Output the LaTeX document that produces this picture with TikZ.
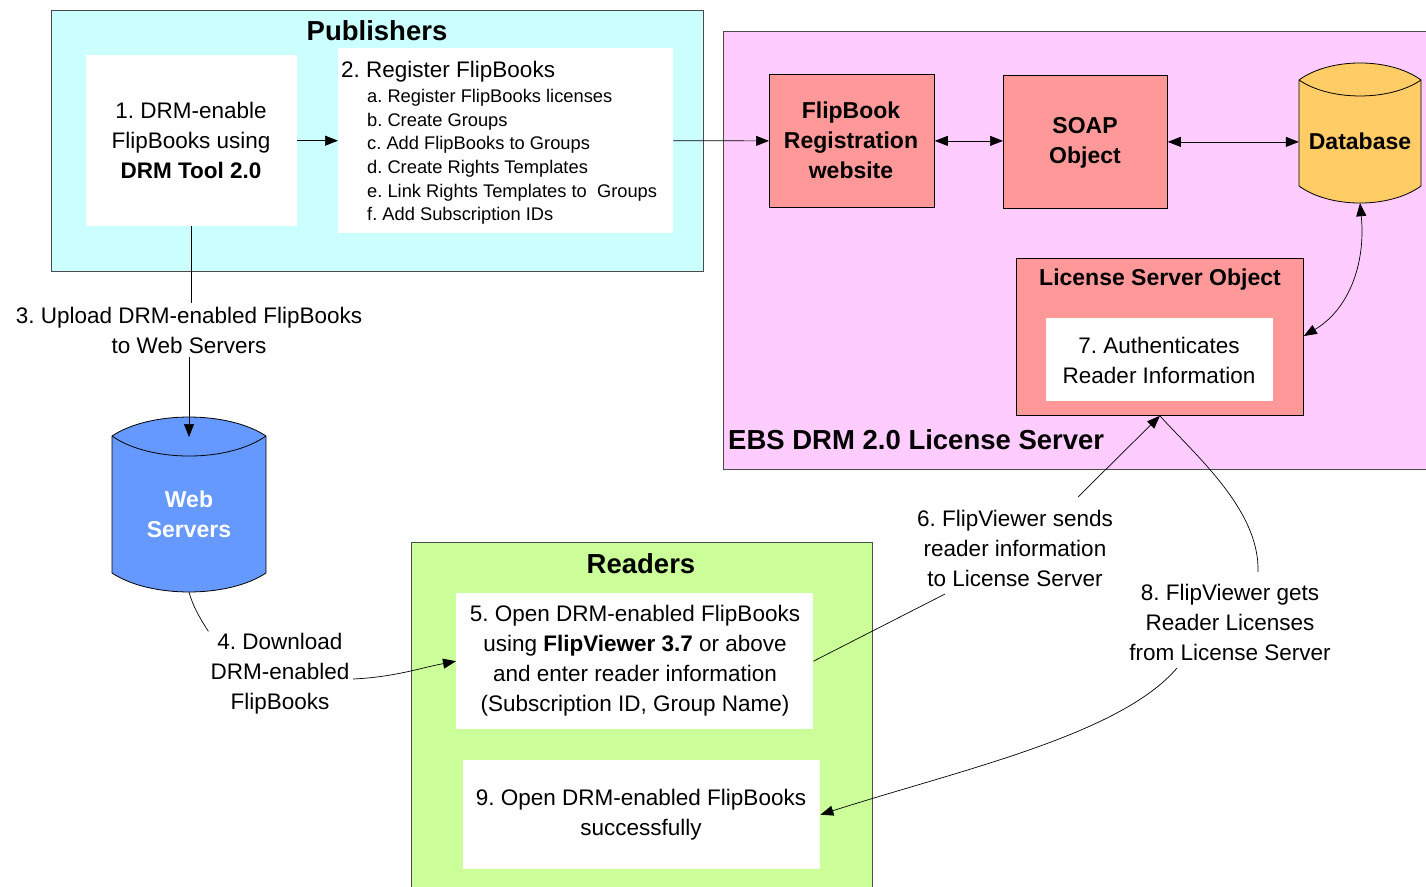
\documentclass[tikz,border=0pt]{standalone}
\usepackage{fontspec}
\setmainfont{Liberation Sans}
\usetikzlibrary{arrows.meta}
\definecolor{pubc}{HTML}{CCFFFF}
\definecolor{srvc}{HTML}{FFCCFF}
\definecolor{salc}{HTML}{FF9999}
\definecolor{rdc}{HTML}{CCFF99}
\definecolor{wsc}{HTML}{6699FF}
\definecolor{dbc}{HTML}{FFCC66}
\newcommand{\myfs}[2]{\fontsize{#1}{#2}\selectfont}
\frenchspacing
\begin{document}
\begin{tikzpicture}[x=1pt,y=-1pt,
  region/.style={draw=black!70, line width=0.9pt, anchor=north west, inner sep=0pt},
  wbox/.style={fill=white, draw=none, anchor=north west, inner sep=0pt},
  sbox/.style={fill=salc, draw=black, line width=0.8pt, anchor=north west, inner sep=0pt},
  conn/.style={line width=0.7pt},
  arr/.style={conn, -{Triangle[length=13pt,width=10pt]}},
  darr/.style={conn, {Triangle[length=13pt,width=10pt]}-{Triangle[length=13pt,width=10pt]}},
  txt/.style={font=\myfs{22.5}{30}, align=center, inner sep=2pt},
  btxt/.style={font=\bfseries\myfs{23}{30}, align=center, inner sep=0pt},
  ttl/.style={font=\bfseries\myfs{27.5}{30}, inner sep=0pt}]
\path[use as bounding box, fill=white] (0,0) rectangle (1426,886);

% ---------- Publishers ----------
\node[region, fill=pubc, minimum width=652pt, minimum height=261pt] (pub) at (51,10) {};
\node[ttl] (pubt) at (377,31) {Publishers};
\node[wbox, minimum width=211pt, minimum height=171pt] (b1) at (86,55) {};
\node[txt] (b1t) at (191,140) {1. DRM-enable\\FlipBooks using\\\textbf{DRM Tool 2.0}};
\node[wbox, minimum width=335pt, minimum height=185pt] (b2) at (338,48) {};
\node[font=\myfs{22.5}{30}, anchor=west, inner sep=0pt] (b2t) at (341,72) {2. Register FlipBooks};
\node[font=\myfs{18.3}{23.7}, align=left, anchor=north west, inner sep=0pt] (b2l) at (367,89)
  {a. Register FlipBooks licenses\\b. Create Groups\\c. Add FlipBooks to Groups\\d. Create Rights Templates\\e. Link Rights Templates to\ \ Groups\\f. Add Subscription IDs};

% ---------- License server ----------
\node[region, fill=srvc, minimum width=720pt, minimum height=438pt] (srv) at (723,31) {};
\node[ttl, anchor=west] (srvt) at (728,440) {EBS DRM 2.0 License Server};
\node[sbox, minimum width=165pt, minimum height=133pt] (reg) at (769,74) {};
\node[btxt] (regt) at (851,140) {FlipBook\\Registration\\website};
\node[sbox, minimum width=164pt, minimum height=133pt] (soap) at (1003,75) {};
\node[btxt] (soapt) at (1085,143) {SOAP\\Object};
% database cylinder
\node[minimum width=122pt, minimum height=140pt, inner sep=0pt] (db) at (1360,133) {};
\draw[fill=dbc, line width=0.8pt] (1299,80) .. controls (1330,57.3) and (1390,57.3) .. (1421,80)
  -- (1421,186) .. controls (1390,208.7) and (1330,208.7) .. (1299,186) -- cycle;
\draw[line width=0.8pt] (1299,80) .. controls (1330,101.3) and (1390,101.3) .. (1421,80);
\node[btxt] (dbt) at (1360,141) {Database};
\node[sbox, minimum width=287pt, minimum height=157pt] (lso) at (1016,258) {};
\node[btxt] (lsot) at (1160,280) {License Server Object};
\node[wbox, minimum width=227pt, minimum height=83pt] (b7) at (1046,318) {};
\node[txt] (b7t) at (1159,360) {7. Authenticates\\Reader Information};

% ---------- Web servers ----------
\node[minimum width=154pt, minimum height=175pt, inner sep=0pt] (ws) at (189,504.5) {};
\draw[fill=wsc, line width=0.8pt] (112,436) .. controls (150,410.7) and (228,410.7) .. (266,436)
  -- (266,573) .. controls (228,598.3) and (150,598.3) .. (112,573) -- cycle;
\draw[line width=0.8pt] (112,436) .. controls (150,462.7) and (228,462.7) .. (266,436);
\node[btxt, text=white] (wst) at (189,514) {Web\\Servers};
\coordinate (wstop) at (189,437);

% ---------- Readers ----------
\node[region, fill=rdc, minimum width=461pt, minimum height=360pt] (rd) at (411,542) {};
\node[ttl] (rdt) at (641,564) {Readers};
\node[wbox, minimum width=357pt, minimum height=136pt] (b5) at (456,593) {};
\node[txt] (b5t) at (635,661) {5. Open DRM-enabled FlipBooks\\using \textbf{FlipViewer 3.7} or above\\and enter reader information\\(Subscription ID, Group Name)};
\node[wbox, minimum width=357pt, minimum height=109pt] (b9) at (463,760) {};
\node[txt] (b9t) at (641,815) {9. Open DRM-enabled FlipBooks\\successfully};

% ---------- labels ----------
\node[txt, inner sep=4pt] (l3) at (189,330) {3. Upload DRM-enabled FlipBooks\\to Web Servers};
\node[txt] (l4) at (280,674) {4. Download\\DRM-enabled\\FlipBooks};
\node[txt] (l6) at (1015,548) {6. FlipViewer sends\\reader information\\to License Server};
\node[txt] (l8) at (1230,622) {8. FlipViewer gets\\Reader Licenses\\from License Server};
\coordinate (c6a) at (1078,497);
\coordinate (c6b) at (945,594);
\coordinate (c8a) at (1258,572);
\coordinate (c8b) at (1177,668);
\coordinate (c4b) at (353,679);

% ---------- connectors ----------
\draw[arr] (b1.east) -- (b2.west);
\draw[arr] (b2.east) -- (reg.west);
\draw[darr] (reg.east) -- (soap.west |- reg.east);
\draw[darr] (soap.east) -- (db.west |- soap.east);
\draw[darr] (db.south) .. controls (1366,265) and (1348,310) .. (lso.east |- 0,336);
\draw[conn] (b1.south) -- (b1.south |- l3.north);
\draw[arr] (l3.south) -- (wstop);
\draw[conn] (ws.south) .. controls (193,606) and (199,617) .. (l4.north west);
\draw[arr] (c4b) .. controls (395,677) and (420,668) .. (b5.west);
\draw[arr] (c6a) -- (lso.south);
\draw[conn] (b5.east) -- (c6b);
\draw[conn] (lso.south) .. controls (1195,455) and (1260,510) .. (c8a);
\draw[arr] (c8b) .. controls (1120,735) and (960,770) .. (b9.east);
\end{tikzpicture}
\end{document}
